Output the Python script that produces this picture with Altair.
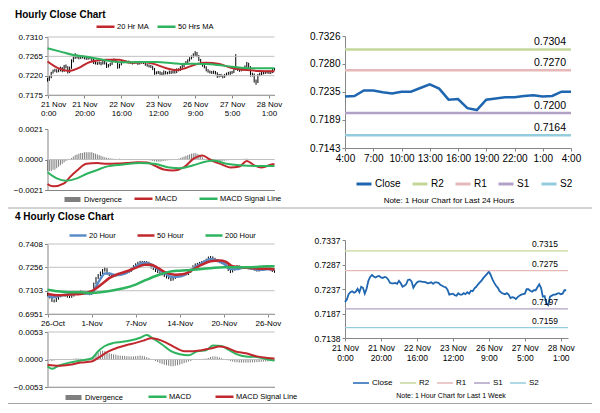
import json
import altair as alt
import pandas as pd

FONT = "Liberation Sans"
RED = "#c0282d"
GREEN = "#2eb35f"
BLUE20 = "#5b8cc8"
CLOSE = "#1f66b0"
R2C, R1C, S1C, S2C = "#c4d79b", "#e6b9b8", "#b2a1c7", "#93cddd"
GRAY_DIV = "#7f7f7f"
AXIS = "#868686"
GRID = "#c0c0c0"
SEP = "#a6a6a6"
W, H = 584, 397

# ---------------- hourly data (21 Nov 0:00 .. 28 Nov 4:00) ----------------
hourly_close = [
    0.7211, 0.7216, 0.7227, 0.7231, 0.7233, 0.7230, 0.7232, 0.7238, 0.7231, 0.7242,
    0.7240, 0.7228, 0.7238, 0.7254, 0.7262, 0.7266, 0.7263, 0.7261, 0.7263, 0.7264,
    0.7261, 0.7260, 0.7262, 0.7261, 0.7257, 0.7250, 0.7249, 0.7249, 0.7250, 0.7248,
    0.7254, 0.7249, 0.7242, 0.7244, 0.7247, 0.7256, 0.7257, 0.7253, 0.7240, 0.7246,
    0.7251, 0.7253, 0.7253, 0.7252, 0.7252, 0.7251, 0.7249, 0.7250, 0.7251, 0.7248,
    0.7251, 0.7251, 0.7250, 0.7246, 0.7244, 0.7242, 0.7241, 0.7236, 0.7226, 0.7227,
    0.7228, 0.7225, 0.7224, 0.7229, 0.7226, 0.7226, 0.7229, 0.7227, 0.7231, 0.7228,
    0.7234, 0.7233, 0.7239, 0.7242, 0.7247, 0.7251, 0.7255, 0.7260, 0.7264, 0.7268,
    0.7273, 0.7266, 0.7257, 0.7250, 0.7244, 0.7240, 0.7233, 0.7230, 0.7228, 0.7227,
    0.7229, 0.7226, 0.7219, 0.7221, 0.7220, 0.7217, 0.7221, 0.7224, 0.7226, 0.7227,
    0.7228, 0.7237, 0.7237, 0.7234, 0.7232, 0.7235, 0.7235, 0.7241, 0.7247, 0.7240,
    0.7222, 0.7223, 0.7208, 0.7205, 0.7222, 0.7224, 0.7226, 0.7226, 0.7228, 0.7229,
    0.7227, 0.7228, 0.7235, 0.7235]
hourly_high = [
    0.7215, 0.7219, 0.7229, 0.7234, 0.7236, 0.7235, 0.7235, 0.7241, 0.7240, 0.7245,
    0.7246, 0.7242, 0.7241, 0.7258, 0.7268, 0.7272, 0.7269, 0.7265, 0.7266, 0.7267,
    0.7266, 0.7264, 0.7265, 0.7265, 0.7263, 0.7259, 0.7253, 0.7252, 0.7253, 0.7252,
    0.7257, 0.7256, 0.7251, 0.7247, 0.7250, 0.7259, 0.7260, 0.7259, 0.7254, 0.7248,
    0.7254, 0.7256, 0.7256, 0.7255, 0.7255, 0.7254, 0.7253, 0.7253, 0.7254, 0.7253,
    0.7254, 0.7254, 0.7253, 0.7252, 0.7248, 0.7246, 0.7245, 0.7243, 0.7238, 0.7230,
    0.7231, 0.7230, 0.7228, 0.7232, 0.7231, 0.7229, 0.7232, 0.7231, 0.7234, 0.7233,
    0.7237, 0.7237, 0.7242, 0.7245, 0.7250, 0.7254, 0.7258, 0.7263, 0.7267, 0.7272,
    0.7277, 0.7275, 0.7268, 0.7259, 0.7252, 0.7246, 0.7242, 0.7235, 0.7232, 0.7231,
    0.7232, 0.7231, 0.7228, 0.7224, 0.7224, 0.7222, 0.7224, 0.7227, 0.7229, 0.7230,
    0.7231, 0.7240, 0.7270, 0.7240, 0.7237, 0.7238, 0.7239, 0.7244, 0.7252, 0.7250,
    0.7242, 0.7227, 0.7225, 0.7211, 0.7224, 0.7227, 0.7229, 0.7229, 0.7231, 0.7232,
    0.7232, 0.7231, 0.7238, 0.7238]
hourly_low = [
    0.7206, 0.7208, 0.7214, 0.7225, 0.7229, 0.7227, 0.7228, 0.7230, 0.7228, 0.7229,
    0.7237, 0.7225, 0.7226, 0.7236, 0.7251, 0.7259, 0.7260, 0.7258, 0.7259, 0.7260,
    0.7258, 0.7257, 0.7257, 0.7258, 0.7254, 0.7247, 0.7246, 0.7245, 0.7246, 0.7244,
    0.7246, 0.7246, 0.7238, 0.7239, 0.7242, 0.7245, 0.7253, 0.7250, 0.7236, 0.7237,
    0.7244, 0.7249, 0.7250, 0.7249, 0.7249, 0.7248, 0.7246, 0.7247, 0.7248, 0.7245,
    0.7246, 0.7248, 0.7247, 0.7243, 0.7241, 0.7239, 0.7238, 0.7233, 0.7222, 0.7223,
    0.7224, 0.7222, 0.7221, 0.7222, 0.7223, 0.7223, 0.7224, 0.7224, 0.7225, 0.7225,
    0.7226, 0.7230, 0.7231, 0.7237, 0.7240, 0.7245, 0.7249, 0.7253, 0.7258, 0.7262,
    0.7266, 0.7263, 0.7254, 0.7247, 0.7241, 0.7237, 0.7230, 0.7227, 0.7225, 0.7224,
    0.7224, 0.7223, 0.7215, 0.7216, 0.7217, 0.7214, 0.7215, 0.7219, 0.7222, 0.7222,
    0.7224, 0.7226, 0.7233, 0.7231, 0.7229, 0.7230, 0.7232, 0.7233, 0.7239, 0.7237,
    0.7218, 0.7218, 0.7204, 0.7199, 0.7203, 0.7219, 0.7221, 0.7223, 0.7224, 0.7225,
    0.7224, 0.7224, 0.7226, 0.7232]
hourly_ticks = [0, 20, 40, 60, 80, 100, 120]
hourly_tick_labels = ["21 Nov|0:00", "21 Nov|20:00", "22 Nov|16:00", "23 Nov|12:00",
                      "26 Nov|9:00", "27 Nov|5:00", "28 Nov|1:00"]
price1_ticks = [0.7175, 0.7220, 0.7265, 0.7310]

ma20_idx = [0, 6, 12, 17, 23, 32, 39, 45, 52, 57, 64, 70, 75, 81, 86, 93, 100, 108, 115, 123]
ma20_val = [0.7253, 0.7237, 0.7231, 0.7238, 0.7252, 0.7257, 0.7257, 0.7250, 0.7251, 0.7248,
            0.7238, 0.7233, 0.7238, 0.7247, 0.7250, 0.7247, 0.7238, 0.7233, 0.7231, 0.7230]
ma50_idx = [0, 7, 14, 23, 32, 41, 50, 59, 68, 74, 80, 86, 92, 100, 110, 123]
ma50_val = [0.7284, 0.7276, 0.7268, 0.7263, 0.7255, 0.7251, 0.7252, 0.7252, 0.7249, 0.7247,
            0.7248, 0.7247, 0.7245, 0.7241, 0.7237, 0.7237]

macd1_ticks = [-0.0021, 0.0, 0.0021]
macd_h_idx = [0, 3, 9, 12, 16, 21, 27, 32, 38, 43, 49, 54, 58, 63, 68, 74, 79, 84, 88, 94,
              99, 104, 108, 112, 116, 122, 123]
macd_h_val = [-0.00169, -0.00185, -0.00164, -0.00123, -0.00076, -0.00030, -0.00024, -0.00030,
              -0.00028, -0.00024, -0.00019, -0.00020, -0.00042, -0.00069, -0.00076, -0.00053,
              0.00004, 0.00028, 0.00000, -0.00032, -0.00055, -0.00048, -0.00010, -0.00040,
              -0.00055, -0.00032, -0.00030]
sig_h_idx = [0, 5, 10, 16, 21, 27, 32, 41, 50, 58, 65, 72, 79, 86, 90, 97, 104, 113, 123]
sig_h_val = [-0.00088, -0.00130, -0.00146, -0.00130, -0.00100, -0.00072, -0.00049, -0.00035,
             -0.00024, -0.00030, -0.00053, -0.00060, -0.00040, -0.00014, -0.00007, -0.00030,
             -0.00040, -0.00044, -0.00044]
# divergence per hourly bar, in units of 1e-4
hourly_divergence_x1e4 = [
    -8, -8, -8, -7, -7, -6, -5, -4, -3, -2, -1, -0.5, 0,
    1, 2, 3, 3.5, 4, 4.5, 4.5, 5, 5, 5, 5, 5, 4.5, 4, 3.5, 3, 2.5, 2, 1.5, 1.2, 1, 0.8, 0.6,
    0.5, 0.4, 0.3, 0.5, 0.3, 0.2, 0.2, 0.3, 0.4, 0.3, 0.2, 0.1, 0.2, 0.1, 0.1, 0, 0, -0.2, -0.3, -0.5, -0.7,
    -1, -1.2, -1.5, -1.5, -1.4, -1.2, -1, -0.8, -0.6, -0.5, -0.4, -0.3, -0.2, 0, 0.5, 1,
    1.5, 2, 2.5, 3, 3.5, 4, 4.2, 4.5, 4, 3.5, 2.5, 1.5, 0.5, -0.3,
    -0.8, -1.2, -1.5, -1.5, -1.4, -1.3, -1.2, -1, -0.9, -0.8, -0.6, -0.5, -0.3, -0.2,
    -0.1, 0, 0.1, 0.2, 0.3, 0.4, 0.5, 0.6, 0.4, 0.2, 0, -0.2, -0.3, -0.4, -0.4, -0.3, -0.2, -0.1,
    0, 0.1, 0.2, 0.2, 0.1]

# last 24 hours chart
day_start = 99
day_ticks_x = [99, 102, 105, 108, 111, 114, 117, 120, 123]
day_tick_labels = ["4:00", "7:00", "10:00", "13:00", "16:00", "19:00", "22:00", "1:00", "4:00"]
day_ticks_y = [0.7143, 0.71888, 0.72346, 0.72803, 0.7326]
level_names = ["R2", "R1", "S1", "S2"]
day_levels = [0.7304, 0.7270, 0.7200, 0.7164]
week_levels = [0.7315, 0.7275, 0.7197, 0.7159]
week_ticks_y = [0.7138, 0.7187, 0.7237, 0.7287, 0.7337]

# ---------------- 4-hourly data ----------------
four_high = [
    0.7090, 0.7082, 0.7064, 0.7046, 0.7055, 0.7070, 0.7078, 0.7082, 0.7080, 0.7074,
    0.7070, 0.7076, 0.7086, 0.7091, 0.7098, 0.7108, 0.7105, 0.7099, 0.7094, 0.7090,
    0.7094, 0.7156, 0.7192, 0.7212, 0.7228, 0.7245, 0.7258, 0.7250, 0.7220, 0.7210,
    0.7206, 0.7210, 0.7212, 0.7216, 0.7218, 0.7224, 0.7231, 0.7238, 0.7256, 0.7270,
    0.7282, 0.7292, 0.7298, 0.7298, 0.7297, 0.7296, 0.7292, 0.7275, 0.7260, 0.7250,
    0.7238, 0.7230, 0.7223, 0.7215, 0.7205, 0.7196, 0.7190, 0.7191, 0.7203, 0.7209,
    0.7214, 0.7213, 0.7216, 0.7218, 0.7231, 0.7247, 0.7269, 0.7281, 0.7285, 0.7291,
    0.7297, 0.7302, 0.7312, 0.7326, 0.7330, 0.7327, 0.7318, 0.7310, 0.7300, 0.7295,
    0.7290, 0.7283, 0.7277, 0.7246, 0.7246, 0.7258, 0.7270, 0.7268, 0.7263, 0.7261,
    0.7259, 0.7258, 0.7257, 0.7254, 0.7252, 0.7245, 0.7244, 0.7247, 0.7254, 0.7258,
    0.7264, 0.7261, 0.7246, 0.7237]
four_low = [
    0.7068, 0.7052, 0.7030, 0.7026, 0.7030, 0.7045, 0.7060, 0.7066, 0.7064, 0.7058,
    0.7055, 0.7057, 0.7065, 0.7075, 0.7080, 0.7087, 0.7089, 0.7084, 0.7079, 0.7074,
    0.7075, 0.7084, 0.7145, 0.7180, 0.7198, 0.7212, 0.7228, 0.7208, 0.7198, 0.7190,
    0.7191, 0.7195, 0.7198, 0.7200, 0.7204, 0.7206, 0.7212, 0.7219, 0.7226, 0.7244,
    0.7257, 0.7268, 0.7278, 0.7283, 0.7283, 0.7280, 0.7263, 0.7248, 0.7238, 0.7225,
    0.7218, 0.7211, 0.7203, 0.7193, 0.7183, 0.7178, 0.7166, 0.7169, 0.7180, 0.7191,
    0.7197, 0.7199, 0.7199, 0.7204, 0.7206, 0.7219, 0.7234, 0.7256, 0.7268, 0.7272,
    0.7278, 0.7284, 0.7289, 0.7299, 0.7312, 0.7306, 0.7298, 0.7289, 0.7283, 0.7277,
    0.7271, 0.7265, 0.7232, 0.7218, 0.7222, 0.7234, 0.7246, 0.7252, 0.7250, 0.7248,
    0.7246, 0.7246, 0.7242, 0.7241, 0.7234, 0.7228, 0.7228, 0.7232, 0.7235, 0.7242,
    0.7246, 0.7234, 0.7225, 0.7220]
four_ticks = [0, 20, 40, 60, 80, 100]
four_tick_labels = ["26-Oct", "1-Nov", "7-Nov", "14-Nov", "20-Nov", "26-Nov"]
price4_ticks = [0.6951, 0.7103, 0.7256, 0.7408]

ma4_20_idx = [0, 3, 5, 10, 15, 20, 22, 24, 26, 28, 31, 35, 38, 41, 44, 47, 50, 53, 56, 59,
              62, 65, 68, 71, 74, 77, 80, 83, 86, 89, 92, 95, 98, 101, 103]
ma4_20_val = [0.7070, 0.7060, 0.7068, 0.7080, 0.7085, 0.7085, 0.7130, 0.7180, 0.7215, 0.7215,
              0.7205, 0.7215, 0.7240, 0.7270, 0.7285, 0.7275, 0.7245, 0.7220, 0.7195, 0.7195,
              0.7205, 0.7235, 0.7265, 0.7290, 0.7310, 0.7300, 0.7280, 0.7245, 0.7245, 0.7255,
              0.7250, 0.7240, 0.7240, 0.7245, 0.7240]
ma4_50_idx = [0, 5, 10, 15, 20, 25, 28, 32, 36, 40, 44, 47, 50, 54, 58, 62, 66, 70, 74, 78,
              81, 84, 88, 92, 96, 100, 103]
ma4_50_val = [0.7082, 0.7073, 0.7078, 0.7082, 0.7100, 0.7150, 0.7185, 0.7212, 0.7230, 0.7252,
              0.7273, 0.7273, 0.7252, 0.7219, 0.7208, 0.7212, 0.7241, 0.7273, 0.7295, 0.7300,
              0.7291, 0.7263, 0.7256, 0.7252, 0.7247, 0.7247, 0.7241]
ma4_200_idx = [0, 5, 10, 15, 20, 25, 30, 35, 40, 45, 50, 55, 60, 65, 70, 75, 80, 85, 90, 95, 100, 103]
ma4_200_val = [0.7110, 0.7099, 0.7093, 0.7093, 0.7088, 0.7095, 0.7106, 0.7121, 0.7143, 0.7175,
               0.7204, 0.7226, 0.7234, 0.7239, 0.7245, 0.7252, 0.7256, 0.7256, 0.7256, 0.7258,
               0.7263, 0.7263]

macd4_ticks = [-0.0053, 0.0, 0.0053]
macd4_idx = [0, 2, 5, 10, 15, 20, 23, 26, 30, 34, 38, 42, 45, 48, 52, 56, 60, 64, 68, 72,
             75, 79, 82, 86, 90, 95, 100, 103]
macd4_val = [-0.0013, -0.0018, -0.0012, -0.0006, -0.0002, 0.0002, 0.0016, 0.0026, 0.0032, 0.0034,
             0.0037, 0.0042, 0.0047, 0.0040, 0.0029, 0.0016, 0.0010, 0.0008, 0.0016, 0.0018,
             0.0027, 0.0026, 0.0019, 0.0010, 0.0006, 0.0005, 0.0000, -0.0002]
sig4_idx = [0, 5, 10, 15, 20, 23, 27, 32, 36, 40, 44, 47, 50, 54, 58, 62, 66, 70, 74, 78,
            81, 85, 90, 95, 100, 103]
sig4_val = [-0.0010, -0.0012, -0.0010, -0.0006, -0.0004, 0.0003, 0.0014, 0.0023, 0.0028, 0.0032,
            0.0037, 0.0041, 0.0039, 0.0032, 0.0023, 0.0016, 0.0016, 0.0018, 0.0021, 0.0025,
            0.0023, 0.0016, 0.0012, 0.0006, 0.0003, 0.0002]
four_divergence_x1e4 = [
    -1, -2, -3, -2, -1, 0, 0.5, 1, 1, 0.5, 0.5, 1, 1.5, 2, 2, 1.5, 1, 1, 1.5, 2, 3,
    5, 9, 13, 16, 17, 16, 14, 12, 11, 10, 9, 8, 7.5, 7, 7, 6.5, 6, 6, 6, 6.5,
    7, 7.5, 7, 6, 4.5, 3, 1,
    -0.5, -3, -5, -7, -8.5, -10, -11, -12, -13, -13, -12, -11, -10, -8.5, -7, -5.5, -4, -3,
    -1, -0.5, 0, 0.5, 1, 1.5, 2,
    3, 5, 6, 6, 5.5, 4, 2.5, 1,
    0, -1.5, -3, -4, -5, -5.5, -6, -6, -6, -6, -6, -6, -5.5, -5.5, -5, -5, -4.5, -4, -4, -3.5,
    -3, -2.5, -2]

# ---------------- panel frames (pixels inside the single view) ----------------
LX0, LX1 = 39.5, 266.5           # left panels
A_Y = (29, 87)                    # hourly price
B_Y = (121, 182)                  # hourly MACD
D_Y = (236, 306)                  # 4-hourly price
E_Y = (324, 379)                  # 4-hourly MACD
C_X, C_Y = (337, 563), (28, 140)  # last 24 hours
F_X, F_Y = (337, 560), (232, 330)  # last week


# ---------------- helpers ----------------
def scales(xdom, ydom, xr, yr):
    return (alt.Scale(domain=xdom, range=[xr[0], xr[1]], nice=False, zero=False),
            alt.Scale(domain=ydom, range=[yr[1], yr[0]], nice=False, zero=False))


def y_axis(values, x_left, size=8):
    return alt.Axis(values=values, format=".4f", title=None, grid=False, orient="left",
                    offset=-x_left, domainColor=AXIS, tickColor=AXIS, tickSize=3,
                    labelFontSize=size, labelColor="#000000", labelPadding=2, labelFont=FONT,
                    labelOverlap=False, labelFlush=False)


def x_axis(values, y_bottom, expr=None, labels=True, size=8, ticks=True, flush_offset=None):
    kw = dict(values=values, title=None, grid=False, orient="bottom", offset=y_bottom - H,
              domainColor=AXIS, tickColor=AXIS, tickSize=3, labels=labels, ticks=ticks,
              labelFontSize=size, labelColor="#000000", labelPadding=2,
              labelLineHeight=size + 1.5, labelFont=FONT, labelOverlap=False)
    if flush_offset is None:
        kw["labelFlush"] = False
    else:
        kw["labelFlush"] = True
        kw["labelFlushOffset"] = flush_offset
    if labels and expr:
        kw["labelExpr"] = expr
    return alt.Axis(**kw)


def legend(x, y, size, sw, sym, pad, offset=2):
    return alt.Legend(orient="none", legendX=x, legendY=y, direction="horizontal",
                      title=None, symbolType="stroke", symbolStrokeWidth=sw,
                      symbolSize=sym, labelFontSize=size, labelOffset=offset,
                      columnPadding=pad, padding=0, labelColor="#000000", labelFont=FONT)


def text_layer(txt, x, y, size, bold=False, align="left", baseline="alphabetic"):
    return alt.Chart(pd.DataFrame({"t": [txt]})).mark_text(
        align=align, baseline=baseline, fontSize=size, font=FONT,
        fontWeight="bold" if bold else "normal", color="#000000"
    ).encode(text="t:N", x=alt.value(x), y=alt.value(y))


def sep_layer(y):
    return alt.Chart(pd.DataFrame({"k": [0]})).mark_rule(color=SEP, strokeWidth=1).encode(
        x=alt.value(0), x2=alt.value(W), y=alt.value(y))


def grid_layer(ticks, ys, xr):
    return alt.Chart(pd.DataFrame({"g": ticks})).mark_rule(color=GRID, strokeWidth=1).encode(
        y=alt.Y("g:Q", scale=ys, title=None), x=alt.value(xr[0]), x2=alt.value(xr[1]))


def long_df(pairs):
    rows = []
    for name, idxs, vals in pairs:
        for i, v in zip(idxs, vals):
            rows.append({"i": i, "v": v, "s": name})
    return pd.DataFrame(rows)


hourly_expr = f"split({json.dumps(hourly_tick_labels)}[round(datum.value / 20)], '|')"
four_expr = f"{json.dumps(four_tick_labels)}[round(datum.value / 20)]"
day_expr = f"{json.dumps(day_tick_labels)}[round((datum.value - {day_start}) / 3)]"

idx_h = list(range(len(hourly_close)))
idx_4 = list(range(len(four_high)))

# ---------------- A: hourly price ----------------
xs, ys = scales([0, 123], [0.7175, 0.7310], (LX0, LX1), A_Y)
df_h = pd.DataFrame({"i": idx_h, "hi": hourly_high, "lo": hourly_low})
a_bars = alt.Chart(df_h).mark_rule(color="#000000", strokeWidth=1).encode(
    x=alt.X("i:Q", scale=xs, axis=x_axis(hourly_ticks, A_Y[1], hourly_expr, flush_offset=7)),
    y=alt.Y("lo:Q", scale=ys, axis=y_axis(price1_ticks, LX0)),
    y2="hi:Q")
a_lines = alt.Chart(long_df([("20 Hr MA", ma20_idx, ma20_val), ("50 Hrs MA", ma50_idx, ma50_val)])
                    ).mark_line(strokeWidth=2, interpolate="monotone").encode(
    x=alt.X("i:Q", scale=xs, title=None), y=alt.Y("v:Q", scale=ys, title=None),
    color=alt.Color("s:N", scale=alt.Scale(domain=["20 Hr MA", "50 Hrs MA"], range=[RED, GREEN]),
                    legend=legend(87, 8, 7.5, 2.5, 324, 3, 1)))
panel_a = alt.layer(a_bars, grid_layer(price1_ticks, ys, (LX0, LX1)), a_lines)

# ---------------- B: hourly MACD ----------------
xs, ys = scales([0, 123], [-0.0021, 0.0021], (LX0, LX1), B_Y)
b_div = alt.Chart(pd.DataFrame({"i": idx_h, "d": [v * 1e-4 for v in hourly_divergence_x1e4],
                                "s": "Divergence"})).mark_rule(strokeWidth=1).encode(
    x=alt.X("i:Q", scale=xs, axis=x_axis(hourly_ticks, B_Y[1], labels=False, ticks=False)),
    y=alt.Y("d:Q", scale=ys, axis=y_axis(macd1_ticks, LX0)),
    y2=alt.datum(0),
    color=alt.Color("s:N", scale=alt.Scale(domain=["Divergence"], range=[GRAY_DIV]),
                    legend=legend(54, 181, 7.5, 5, 256, 0, 1)))
b_lines = alt.Chart(long_df([("MACD", macd_h_idx, macd_h_val),
                             ("MACD Signal Line", sig_h_idx, sig_h_val)])
                    ).mark_line(strokeWidth=2, interpolate="monotone").encode(
    x=alt.X("i:Q", scale=xs, title=None), y=alt.Y("v:Q", scale=ys, title=None),
    color=alt.Color("s:N", scale=alt.Scale(domain=["MACD", "MACD Signal Line"], range=[RED, GREEN]),
                    legend=legend(125, 180, 7.5, 2.5, 324, 16, 1)))
panel_b = alt.layer(b_div, grid_layer([0.0], ys, (LX0, LX1)), b_lines).resolve_scale(color="independent")

# ---------------- C: last 24 hours ----------------
lvl_colors = alt.Scale(domain=["Close", "R2", "R1", "S1", "S2"], range=[CLOSE, R2C, R1C, S1C, S2C])
xs, ys = scales([day_start, 123], [0.7143, 0.7326], C_X, C_Y)
lvl_d = pd.DataFrame({"s": level_names, "v": day_levels, "label": [f"{v:.4f}" for v in day_levels]})
color_c = alt.Color("s:N", scale=lvl_colors, legend=legend(347, 167, 10, 3, 225, 5, 2))
c_line = alt.Chart(pd.DataFrame({"i": idx_h[day_start:], "v": hourly_close[day_start:], "s": "Close"})
                   ).mark_line(strokeWidth=2.5).encode(
    x=alt.X("i:Q", scale=xs, axis=x_axis(day_ticks_x, C_Y[1], day_expr, size=10)),
    y=alt.Y("v:Q", scale=ys, axis=y_axis(day_ticks_y, C_X[0], 10)), color=color_c)
c_rules = alt.Chart(lvl_d).mark_rule(strokeWidth=2.5).encode(
    y=alt.Y("v:Q", scale=ys, title=None), x=alt.value(C_X[0]), x2=alt.value(C_X[1]), color=color_c)
c_text = alt.Chart(lvl_d).mark_text(align="right", baseline="bottom", dy=-2, fontSize=10.5,
                                    font=FONT, color="#000000").encode(
    y=alt.Y("v:Q", scale=ys, title=None), x=alt.value(558), text="label:N")
panel_c = alt.layer(c_line, c_rules, c_text)

# ---------------- F: last week ----------------
xs, ys = scales([0, 124], [0.7138, 0.7337], F_X, F_Y)
lvl_w = pd.DataFrame({"s": level_names, "v": week_levels, "label": [f"{v:.4f}" for v in week_levels]})
color_f = alt.Color("s:N", scale=lvl_colors, legend=legend(344, 366, 8, 1.5, 256, 4, 2))
f_line = alt.Chart(pd.DataFrame({"i": idx_h, "v": hourly_close, "s": "Close"})
                   ).mark_line(strokeWidth=1.8).encode(
    x=alt.X("i:Q", scale=xs, axis=x_axis(hourly_ticks, F_Y[1], hourly_expr, size=8.5)),
    y=alt.Y("v:Q", scale=ys, axis=y_axis(week_ticks_y, F_X[0], 8.5)), color=color_f)
f_rules = alt.Chart(lvl_w).mark_rule(strokeWidth=1.2).encode(
    y=alt.Y("v:Q", scale=ys, title=None), x=alt.value(F_X[0]), x2=alt.value(F_X[1]), color=color_f)
f_text = alt.Chart(lvl_w).mark_text(align="right", baseline="bottom", dy=-2, fontSize=8.5,
                                    font=FONT, color="#000000").encode(
    y=alt.Y("v:Q", scale=ys, title=None), x=alt.value(550), text="label:N")
panel_f = alt.layer(f_line, f_rules, f_text)

# ---------------- D: 4-hourly price ----------------
xs, ys = scales([0, 103], [0.6951, 0.7408], (LX0, LX1), D_Y)
d_bars = alt.Chart(pd.DataFrame({"i": idx_4, "hi": four_high, "lo": four_low})
                   ).mark_rule(color="#000000", strokeWidth=1).encode(
    x=alt.X("i:Q", scale=xs, axis=x_axis(four_ticks, D_Y[1], four_expr, flush_offset=7)),
    y=alt.Y("lo:Q", scale=ys, axis=y_axis(price4_ticks, LX0)),
    y2="hi:Q")
d_lines = alt.Chart(long_df([("20 Hour", ma4_20_idx, ma4_20_val), ("50 Hour", ma4_50_idx, ma4_50_val),
                             ("200 Hour", ma4_200_idx, ma4_200_val)])
                    ).mark_line(strokeWidth=2.5, interpolate="monotone").encode(
    x=alt.X("i:Q", scale=xs, title=None), y=alt.Y("v:Q", scale=ys, title=None),
    color=alt.Color("s:N", scale=alt.Scale(domain=["20 Hour", "50 Hour", "200 Hour"],
                                           range=[BLUE20, RED, GREEN]),
                    legend=legend(60, 217.5, 7.5, 2.5, 289, 16, 1)))
panel_d = alt.layer(d_bars, grid_layer(price4_ticks, ys, (LX0, LX1)), d_lines)

# ---------------- E: 4-hourly MACD ----------------
xs, ys = scales([0, 103], [-0.0053, 0.0053], (LX0, LX1), E_Y)
e_div = alt.Chart(pd.DataFrame({"i": idx_4, "d": [v * 1e-4 for v in four_divergence_x1e4],
                                "s": "Divergence"})).mark_rule(strokeWidth=1).encode(
    x=alt.X("i:Q", scale=xs, axis=x_axis(four_ticks, E_Y[1], labels=False, ticks=False)),
    y=alt.Y("d:Q", scale=ys, axis=y_axis(macd4_ticks, LX0)),
    y2=alt.datum(0),
    color=alt.Color("s:N", scale=alt.Scale(domain=["Divergence"], range=[GRAY_DIV]),
                    legend=legend(55, 379, 7.5, 5, 256, 0, 1)))
e_lines = alt.Chart(long_df([("MACD", macd4_idx, macd4_val), ("MACD Signal Line", sig4_idx, sig4_val)])
                    ).mark_line(strokeWidth=2, interpolate="monotone").encode(
    x=alt.X("i:Q", scale=xs, title=None), y=alt.Y("v:Q", scale=ys, title=None),
    color=alt.Color("s:N", scale=alt.Scale(domain=["MACD", "MACD Signal Line"], range=[GREEN, RED]),
                    legend=legend(139, 378, 7.5, 2.5, 324, 18, 1)))
panel_e = alt.layer(e_div, grid_layer(macd4_ticks, ys, (LX0, LX1)), e_lines).resolve_scale(color="independent")

# ---------------- decorations ----------------
decor = [
    text_layer("Hourly Close Chart", 7, 9.5, 10, bold=True),
    text_layer("4 Hourly Close Chart", 7, 212, 10, bold=True),
    text_layer("Note: 1 Hour Chart for Last 24 Hours", 441, 193, 8, align="center", baseline="middle"),
    text_layer("Note: 1 Hour Chart for Last 1 Week", 443, 388, 7, align="center", baseline="middle"),
    sep_layer(200),
    sep_layer(395.5),
]

chart = alt.layer(panel_a, panel_b, panel_c, panel_d, panel_e, panel_f, *decor).resolve_scale(
    x="independent", y="independent", color="independent"
).properties(
    width=W, height=H, padding=0, background="#ffffff",
    autosize=alt.AutoSizeParams(type="none")
).configure_view(stroke=None).configure_axis(labelFont=FONT).configure_legend(
    labelFont=FONT).configure_text(font=FONT)

chart.save("out.html", embed_options={"renderer": "svg", "actions": False})
